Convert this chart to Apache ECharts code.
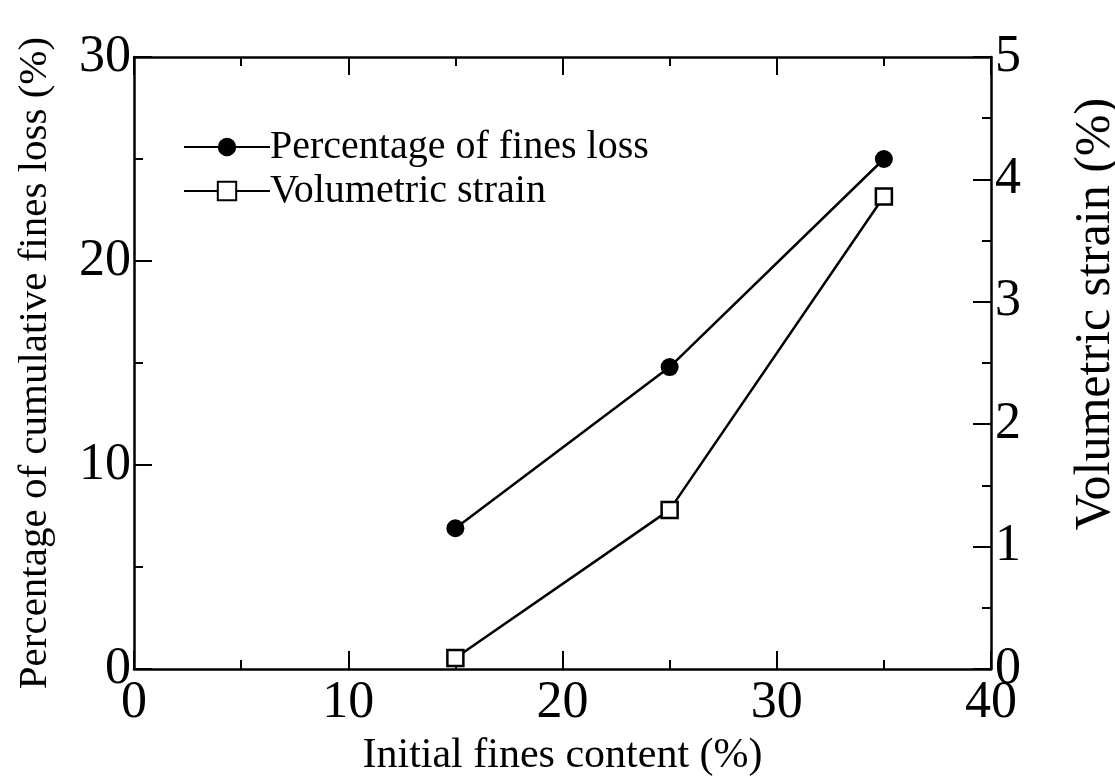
<!DOCTYPE html>
<html>
<head>
<meta charset="utf-8">
<script src="https://cdn.jsdelivr.net/npm/echarts@6/dist/echarts.min.js"></script>
<style>
html,body{margin:0;padding:0;background:#fff;overflow:hidden;}
#main{width:1115px;height:782px;}
</style>
</head>
<body>
<div id="main"></div>
<script>
// Data
const fineContent = [15, 25, 35];                 // Initial fines content (%)
const finesLoss = [6.9, 14.8, 25.0];              // Percentage of cumulative fines loss (%)
const volStrain = [0.09, 1.30, 3.86];             // Volumetric strain (%)
const xTicks = [0, 10, 20, 30, 40];
const leftTicks = [0, 10, 20, 30];
const rightTicks = [0, 1, 2, 3, 4, 5];
const seriesNames = ['Percentage of fines loss', 'Volumetric strain'];
const xName = 'Initial fines content (%)';
const leftName = 'Percentage of cumulative fines loss (%)';
const rightName = 'Volumetric strain (%)';

const FONT = '"Liberation Serif", "Times New Roman", serif';
const chart = echarts.init(document.getElementById('main'), null, {renderer: 'canvas'});

const axisLine = {show: true, onZero: false, lineStyle: {color: '#000', width: 2.5}};
const tick = {show: true, inside: true, length: 18, lineStyle: {color: '#000', width: 2}};
const minor = {show: true, splitNumber: 2, length: 9, lineStyle: {color: '#000', width: 2}};

chart.setOption({
  backgroundColor: '#fff',
  animation: false,
  grid: {left: 134, right: 124, top: 57, bottom: 113, containLabel: false, outerBoundsMode: 'none'},
  legend: {
    orient: 'vertical',
    left: 178,
    top: 122,
    itemWidth: 86,
    itemHeight: 23,
    itemGap: 4,
    data: seriesNames,
    textStyle: {fontFamily: FONT, fontSize: 40, color: '#000', padding: [0,0,0,-5]}
  },
  xAxis: [{
    type: 'value', min: xTicks[0], max: xTicks[xTicks.length-1], interval: 10,
    position: 'bottom',
    axisLine: axisLine, axisTick: tick, minorTick: minor, splitLine: {show: false},
    axisLabel: {fontFamily: FONT, fontSize: 52, color: '#000', margin: 8},
    name: xName, nameLocation: 'middle', nameGap: 66,
    nameTextStyle: {fontFamily: FONT, fontSize: 42, color: '#000'}
  }, {
    type: 'value', min: xTicks[0], max: xTicks[xTicks.length-1], interval: 10,
    position: 'top',
    axisLine: axisLine, axisTick: tick, minorTick: minor, splitLine: {show: false},
    axisLabel: {show: false}
  }],
  yAxis: [{
    type: 'value', min: leftTicks[0], max: leftTicks[leftTicks.length-1], interval: 10,
    position: 'left',
    axisLine: axisLine, axisTick: tick, minorTick: minor, splitLine: {show: false},
    axisLabel: {fontFamily: FONT, fontSize: 52, color: '#000', margin: 3},
    name: leftName, nameLocation: 'middle', nameGap: 78,
    nameTextStyle: {fontFamily: FONT, fontSize: 41, color: '#000'}
  }, {
    type: 'value', min: rightTicks[0], max: rightTicks[rightTicks.length-1], interval: 1,
    position: 'right',
    axisLine: axisLine, axisTick: tick, minorTick: minor, splitLine: {show: false},
    axisLabel: {fontFamily: FONT, fontSize: 52, color: '#000', margin: 4},
    name: rightName, nameLocation: 'middle', nameGap: 80,
    nameTextStyle: {fontFamily: FONT, fontSize: 50, color: '#000', padding: [0, 0, 0, 98]}
  }],
  series: [{
    name: seriesNames[0],
    type: 'line',
    xAxisIndex: 0, yAxisIndex: 0,
    data: fineContent.map((x, i) => [x, finesLoss[i]]),
    symbol: 'circle', symbolSize: 18,
    lineStyle: {color: '#000', width: 2.5},
    itemStyle: {color: '#000', borderColor: '#000', borderWidth: 0}
  }, {
    name: seriesNames[1],
    type: 'line',
    xAxisIndex: 0, yAxisIndex: 1,
    data: fineContent.map((x, i) => [x, volStrain[i]]),
    symbol: 'rect', symbolSize: 16,
    lineStyle: {color: '#000', width: 2.5},
    itemStyle: {color: '#fff', borderColor: '#000', borderWidth: 2.5}
  }]
});
</script>
</body>
</html>
